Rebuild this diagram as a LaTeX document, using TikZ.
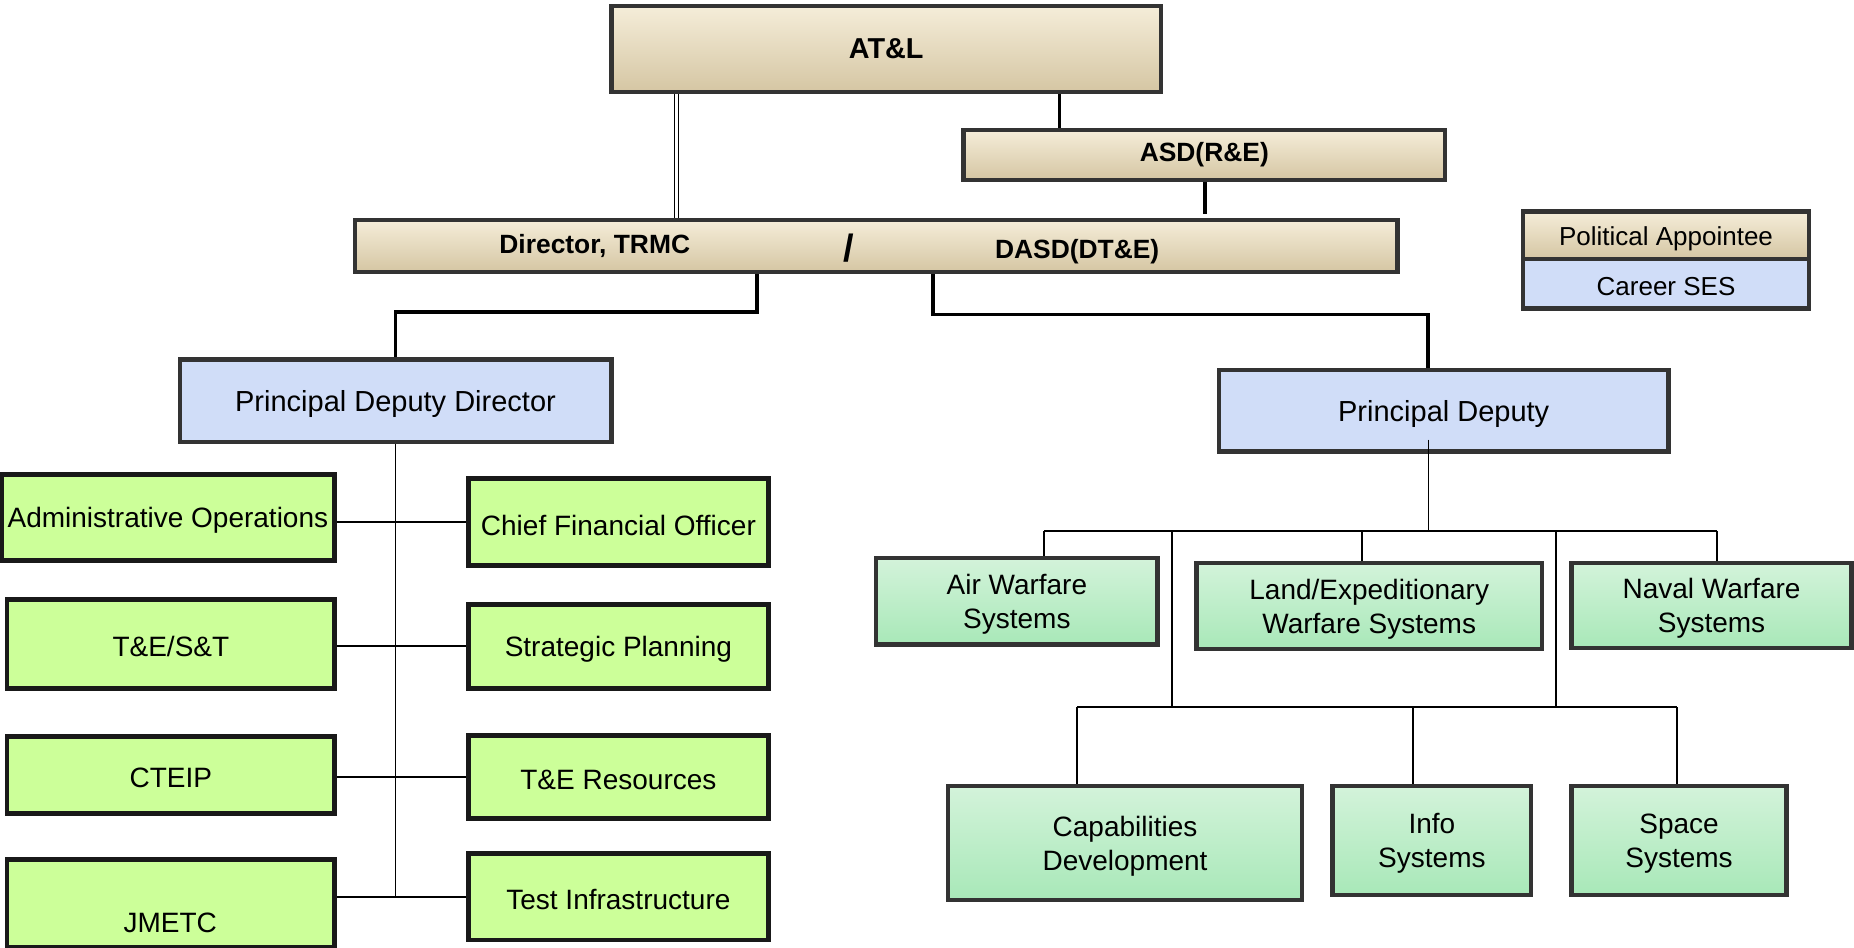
\documentclass[tikz,border=0pt]{standalone}
\usepackage{fontspec}
\setmainfont{Liberation Sans}
\usetikzlibrary{fit}
\definecolor{bord}{HTML}{333333}
\definecolor{beigetop}{HTML}{F5EDD9}
\definecolor{beigebot}{HTML}{D5C6A3}
\definecolor{blu}{HTML}{D0DDF8}
\definecolor{lime}{HTML}{CCFF99}
\definecolor{minttop}{HTML}{D3F3DA}
\definecolor{mintbot}{HTML}{A8E8B8}
\begin{document}
\begin{tikzpicture}[x=0.5912pt,y=-0.5912pt,
  base/.style={draw=bord, line width=2.2pt, inner sep=0pt},
  pol/.style={base, top color=beigetop, bottom color=beigebot},
  ses/.style={base, fill=blu},
  lim/.style={base, fill=lime, line width=2.4pt, draw=black!90},
  mint/.style={base, top color=minttop, bottom color=mintbot},
  rg/.style={inner sep=0pt, align=center, yshift=-1.5pt, font=\fontsize{14}{17}\selectfont},
  bd/.style={inner sep=0pt, align=center, font=\fontsize{13.2}{16}\selectfont\bfseries},
  tx/.style={label={[rg]center:{#1}}},
  tb/.style={label={[bd]center:{#1}}},
  thickc/.style={line width=1.9pt, draw=black},
  thinc/.style={line width=0.85pt, draw=black},
]
\useasboundingbox (0,0) rectangle (1568,801);
\fill[white] (0,0) rectangle (1568,801);

% top level
\node[pol, fit={(517,5) (982,78)}, label={[bd, font=\fontsize{14.4}{17}\selectfont\bfseries]center:AT\&L}] (atl) {};
\node[pol, fit={(815,110) (1222,152)}, tb={ASD(R\&E)}] (asd) {};
\node[pol, fit={(300,186) (1182,230)}] (dir) {};
\node[bd] (dirt) at (503,208) {Director, TRMC};
\node[bd, font=\fontsize{19}{20}\selectfont\bfseries] (slash) at (718,210) {/};
\node[bd] (dasd) at (911,213) {DASD(DT\&E)};

% legend
\node[pol, fit={(1288,179) (1530,219)}, label={[rg, font=\fontsize{13}{15}\selectfont]center:Political Appointee}] (lpa) {};
\node[ses, fit={(1288,219) (1530,261)}, label={[rg, font=\fontsize{13}{15}\selectfont]center:Career SES}] (lses) {};

% deputies
\node[ses, fit={(152,304) (517,374)}, label={[rg, font=\fontsize{14.5}{17}\selectfont]center:Principal Deputy Director}] (pdd) {};
\node[ses, fit={(1031,313) (1411,382)}, label={[rg, font=\fontsize{14.5}{17}\selectfont]center:Principal Deputy}] (pd) {};

% left offices
\node[lim, fit={(1,401) (283,474)}, tx={Administrative Operations}] (ao) {};
\node[lim, fit={(396,405) (650,478)}, tx={Chief Financial Officer}] (cfo) {};
\node[lim, fit={(6,507) (283,582)}, tx={T\&E/S\&T}] (tes) {};
\node[lim, fit={(396,511) (650,582)}, tx={Strategic Planning}] (sp) {};
\node[lim, fit={(6,623) (283,688)}, tx={CTEIP}] (cteip) {};
\node[lim, fit={(396,622) (650,692)}, tx={T\&E Resources}] (ter) {};
\node[lim, fit={(6,727) (283,801)}] (jmetc) {};
\node[rg] (jmetct) at (144,778) {JMETC};
\node[lim, fit={(396,722) (650,795)}, tx={Test Infrastructure}] (ti) {};

% right offices
\node[mint, fit={(741,472) (979,545)}, tx={Air Warfare\\Systems}] (aws) {};
\node[mint, fit={(1012,476) (1304,549)}, tx={Land/Expeditionary\\Warfare Systems}] (lew) {};
\node[mint, fit={(1329,476) (1566,548)}, tx={Naval Warfare\\Systems}] (nws) {};
\node[mint, fit={(802,665) (1101,761)}, tx={Capabilities\\Development}] (cap) {};
\node[mint, fit={(1127,665) (1295,757)}, tx={Info\\Systems}] (info) {};
\node[mint, fit={(1329,665) (1511,757)}, tx={Space\\Systems}] (spc) {};

% top connectors
\coordinate (xa) at (572,0);
\draw[double, line width=0.6pt, double distance=1.4pt] (atl.south -| xa) -- (dir.north -| xa);
\coordinate (xb) at (896,0);
\draw[thickc] (atl.south -| xb) -- (asd.north -| xb);
\coordinate (xc) at (1019,0);
\draw[thickc] (asd.south -| xc) -- ([yshift=2pt]dir.north -| xc);
\coordinate (j1) at (640,264);
\draw[thickc] (dir.south -| j1) -- (j1) -| (pdd.north);
\coordinate (j2) at (789,266);
\coordinate (j3) at (1208,266);
\draw[thickc] (dir.south -| j2) -- (j2) -- (j3) -- (j3 |- pd.north);

% left tree
\draw[thinc] (pdd.south) -- (pdd.south |- ti.west);
\draw[thinc] (ao.east |- cfo.west) -- (cfo.west);
\draw[thinc] (tes.east |- sp.west) -- (sp.west);
\draw[thinc] (cteip.east |- ter.west) -- (ter.west);
\draw[thinc] (jmetc.east |- ti.west) -- (ti.west);

% right tree
\coordinate (xpd) at (1208,0);
\path (pd.south -| xpd) ++(0,-12) coordinate (pdin);
\coordinate (bus1) at (1208,449);
\draw[thinc] (pdin) -- (bus1);
\coordinate (b1l) at (883,449);
\coordinate (b1m) at (1152,449);
\coordinate (b1r) at (1452,449);
\draw[thinc] (b1l) -- (b1r);
\draw[thinc] (b1l) -- (b1l |- aws.north);
\draw[thinc] (b1m) -- (b1m |- lew.north);
\draw[thinc] (b1r) -- (b1r |- nws.north);
\coordinate (v1) at (991,449);
\coordinate (v2) at (1316,449);
\coordinate (b2l) at (911,598);
\coordinate (b2m) at (1195,598);
\coordinate (b2r) at (1418,598);
\draw[thinc] (v1) -- (v1 |- b2l);
\draw[thinc] (v2) -- (v2 |- b2l);
\draw[thinc] (b2l) -- (b2r);
\draw[thinc] (b2l) -- (b2l |- cap.north);
\draw[thinc] (b2m) -- (b2m |- info.north);
\draw[thinc] (b2r) -- (b2r |- spc.north);
\end{tikzpicture}
\end{document}
